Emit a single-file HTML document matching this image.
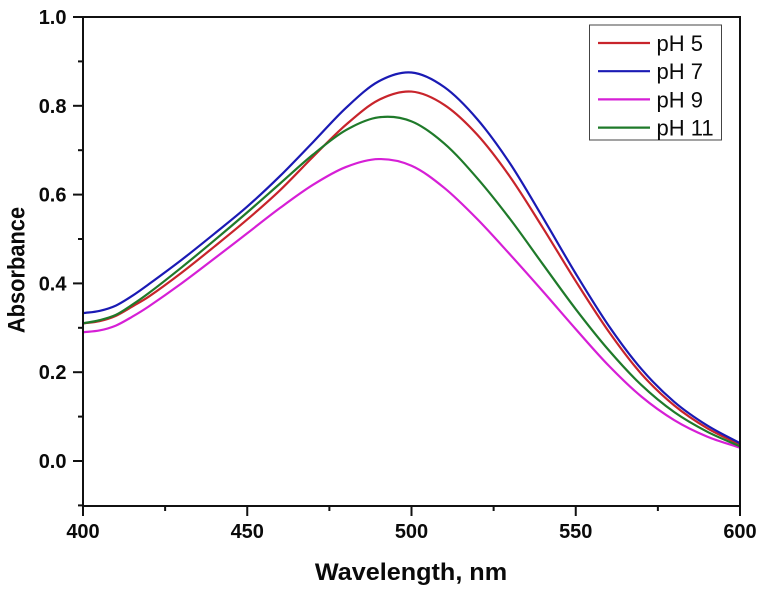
<!DOCTYPE html>
<html lang="en">
<head>
<meta charset="utf-8">
<title>Absorbance vs Wavelength</title>
<style>
html,body{margin:0;padding:0;background:#fff;}
svg{display:block;}
text{font-family:"Liberation Sans",Arial,sans-serif;fill:#0a0a0a;}
</style>
</head>
<body>
<svg id="chart" xmlns="http://www.w3.org/2000/svg" width="762" height="592" viewBox="0 0 762 592">
  <rect x="0" y="0" width="762" height="592" fill="#ffffff"/>
  <g id="series"></g>
  <g id="axes"></g>
  <text transform="translate(411,580) scale(1.05,1)" font-size="24" font-weight="700" text-anchor="middle">Wavelength, nm</text>
  <text transform="translate(24.5,270) rotate(-90) scale(0.91,1)" font-size="24" font-weight="700" text-anchor="middle">Absorbance</text>
  <g id="legend"></g>
</svg>
<script>
var wavelengths = [400,405,410,415,420,430,440,450,460,470,480,490,500,510,520,530,540,550,560,570,580,590,600];
var ph5Values  = [0.310,0.315,0.327,0.348,0.370,0.424,0.483,0.544,0.610,0.685,0.757,0.813,0.832,0.802,0.735,0.640,0.525,0.405,0.292,0.196,0.125,0.074,0.037];
var ph7Values  = [0.333,0.338,0.350,0.372,0.398,0.453,0.512,0.573,0.642,0.718,0.795,0.855,0.875,0.842,0.770,0.670,0.548,0.422,0.305,0.207,0.133,0.080,0.040];
var ph9Values  = [0.290,0.294,0.305,0.325,0.348,0.400,0.456,0.513,0.570,0.622,0.662,0.680,0.665,0.615,0.545,0.465,0.382,0.297,0.215,0.145,0.092,0.055,0.030];
var ph11Values = [0.310,0.317,0.329,0.352,0.378,0.436,0.497,0.560,0.625,0.690,0.745,0.774,0.765,0.715,0.637,0.545,0.443,0.342,0.250,0.171,0.110,0.066,0.033];
var seriesNames = ["pH 5","pH 7","pH 9","pH 11"];
var seriesValues = [ph5Values, ph7Values, ph9Values, ph11Values];
var seriesColors = ["#c8242b","#1a1ab4","#d61fd6","#1f7a2a"];
var xTickLabels = ["400","450","500","550","600"];
var xMinorTicks = [425,475,525,575];
var yTickLabels = ["0.0","0.2","0.4","0.6","0.8","1.0"];
var yMinorTicks = [-0.1,0.1,0.3,0.5,0.7,0.9];

var NS = "http://www.w3.org/2000/svg";
function xScale(w){ return 83 + (w - 400) * (740 - 83) / 200; }
function yScale(v){ return 461 - v * 444; }

function mk(parent, tag, attrs){
  var el = document.createElementNS(NS, tag);
  for (var k in attrs) el.setAttribute(k, attrs[k]);
  parent.appendChild(el);
  return el;
}

function smoothPath(xs, ys){
  var pts = xs.map(function(x,i){ return [xScale(x), yScale(ys[i])]; });
  var n = pts.length;
  var m = pts.map(function(p,i){
    var a = pts[Math.max(i-1,0)], b = pts[Math.min(i+1,n-1)];
    return (b[1]-a[1])/(b[0]-a[0]);
  });
  var d = "M" + pts[0][0].toFixed(2) + " " + pts[0][1].toFixed(2);
  for (var i = 0; i < n - 1; i++){
    var h = (pts[i+1][0]-pts[i][0])/3;
    d += "C" + (pts[i][0]+h).toFixed(2) + " " + (pts[i][1]+m[i]*h).toFixed(2) + " " +
         (pts[i+1][0]-h).toFixed(2) + " " + (pts[i+1][1]-m[i+1]*h).toFixed(2) + " " +
         pts[i+1][0].toFixed(2) + " " + pts[i+1][1].toFixed(2);
  }
  return d;
}

var seriesG = document.getElementById("series");
[0,1,2,3].forEach(function(i){
  var p = mk(seriesG, "path", {d: smoothPath(wavelengths, seriesValues[i]), fill:"none", stroke: seriesColors[i], "stroke-width":"2.2"});
  
  
});

var axesG = document.getElementById("axes");
var frame = mk(axesG, "rect", {x:83, y:17, width:657, height:489, fill:"none", stroke:"#111", "stroke-width":"2"});



xTickLabels.forEach(function(lab){
  var x = xScale(parseFloat(lab));
  var t = mk(axesG, "line", {x1:x, x2:x, y1:506, y2:516, stroke:"#111", "stroke-width":"2"});
  
  
  var tx = mk(axesG, "text", {x:x, y:538, "font-size":"20", "font-weight":"700", "text-anchor":"middle"});
  
  
  tx.textContent = lab;
});
xMinorTicks.forEach(function(w){
  var x = xScale(w);
  var t = mk(axesG, "line", {x1:x, x2:x, y1:506, y2:511, stroke:"#111", "stroke-width":"2"});
  
  
});
yTickLabels.forEach(function(lab){
  var y = yScale(parseFloat(lab));
  var t = mk(axesG, "line", {x1:73, x2:83, y1:y, y2:y, stroke:"#111", "stroke-width":"2"});
  
  
  var tx = mk(axesG, "text", {x:66.5, y:y+7, "font-size":"20", "font-weight":"700", "text-anchor":"end"});
  
  
  tx.textContent = lab;
});
yMinorTicks.forEach(function(v){
  var y = yScale(v);
  var t = mk(axesG, "line", {x1:78, x2:83, y1:y, y2:y, stroke:"#111", "stroke-width":"2"});
  
  
});

var legendG = document.getElementById("legend");
var box = mk(legendG, "rect", {x:589.5, y:25, width:132, height:115, fill:"#fff", stroke:"#444", "stroke-width":"1"});


seriesNames.forEach(function(name, i){
  var y = 43 + i * 28.2;
  var l = mk(legendG, "line", {x1:598, x2:650, y1:y, y2:y, stroke:seriesColors[i], "stroke-width":"2.2"});
  
  
  var t = mk(legendG, "text", {x:656.5, y:y+8, "font-size":"22"});
  
  
  t.textContent = name;
});
</script>
</body>
</html>
